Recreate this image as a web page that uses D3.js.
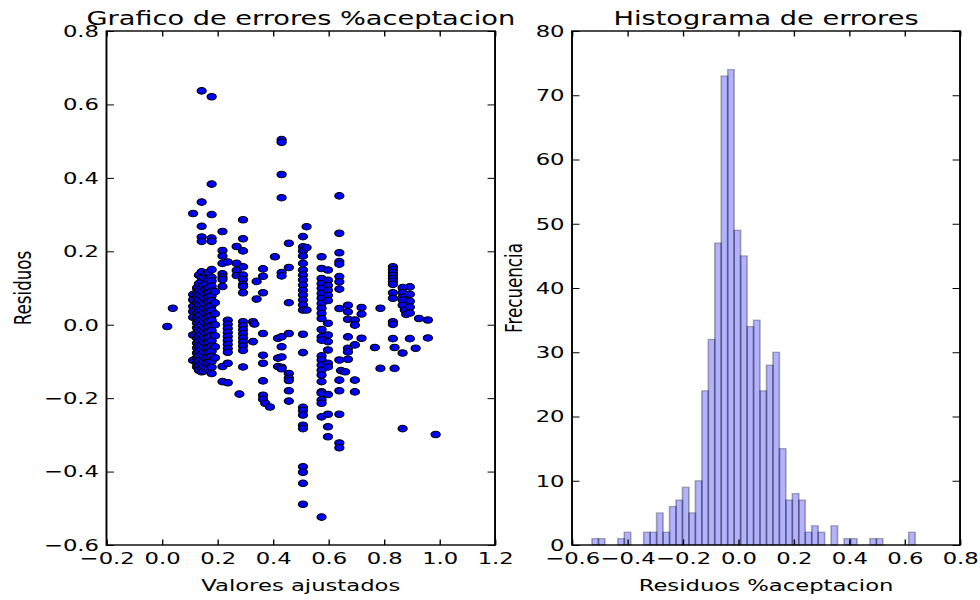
<!DOCTYPE html>
<html>
<head>
<meta charset="utf-8">
<script src="https://cdn.jsdelivr.net/npm/d3@7"></script>
<style>
  html, body { margin: 0; padding: 0; background: #fff; }
  svg { display: block; }
</style>
</head>
<body>
<div id="chart"></div>
<script>
// ---- data -------------------------------------------------------------
// Residual plot: [fitted value, residual]
const residualPoints = [
  [0.019,-0.005],[0.039,0.045],
  [0.112,0.303],[0.112,0.082],[0.112,0.068],[0.112,0.050],[0.112,0.036],[0.112,0.020],[0.112,-0.028],[0.112,-0.097],
  [0.126,0.100],[0.126,0.088],[0.126,0.074],[0.126,0.060],[0.126,0.047],[0.126,0.032],[0.126,0.018],[0.126,0.005],
  [0.126,-0.008],[0.126,-0.022],[0.126,-0.036],[0.126,-0.050],[0.126,-0.063],[0.126,-0.077],[0.126,-0.090],[0.126,-0.104],[0.126,-0.115],
  [0.133,0.135],[0.133,0.112],[0.133,0.095],[0.133,0.081],[0.133,0.067],[0.133,0.053],[0.133,0.039],[0.133,0.025],[0.133,0.011],[0.133,-0.003],
  [0.133,-0.017],[0.133,-0.031],[0.133,-0.045],[0.133,-0.058],[0.133,-0.072],[0.133,-0.086],[0.133,-0.099],[0.133,-0.112],[0.133,-0.124],
  [0.143,0.637],[0.143,0.334],[0.143,0.268],[0.143,0.239],[0.143,0.227],[0.143,0.144],[0.143,0.129],[0.143,0.119],
  [0.143,0.100],[0.143,0.090],[0.143,0.078],[0.143,0.065],[0.143,0.052],[0.143,0.040],[0.143,0.027],[0.143,0.014],[0.143,0.000],
  [0.143,-0.013],[0.143,-0.026],[0.143,-0.040],[0.143,-0.054],[0.143,-0.067],[0.143,-0.080],[0.143,-0.094],[0.143,-0.107],[0.143,-0.120],[0.143,-0.128],
  [0.150,0.128],[0.150,0.106],[0.150,0.086],[0.150,0.073],[0.150,0.059],[0.150,0.045],[0.150,0.033],[0.150,0.020],[0.150,0.007],[0.150,-0.006],
  [0.150,-0.019],[0.150,-0.033],[0.150,-0.047],[0.150,-0.061],[0.150,-0.074],[0.150,-0.087],[0.150,-0.101],[0.150,-0.113],[0.150,-0.126],
  [0.158,0.138],[0.158,0.125],[0.158,0.110],[0.158,0.096],[0.158,0.083],[0.158,0.070],[0.158,0.056],[0.158,0.043],[0.158,0.030],[0.158,0.016],
  [0.158,0.003],[0.158,-0.010],[0.158,-0.024],[0.158,-0.038],[0.158,-0.051],[0.158,-0.064],[0.158,-0.078],[0.158,-0.091],[0.158,-0.105],[0.158,-0.118],
  [0.167,0.142],[0.167,0.122],[0.167,0.101],[0.167,0.087],[0.167,0.075],[0.167,0.062],[0.167,0.048],[0.167,0.035],[0.167,0.021],[0.167,0.008],
  [0.167,-0.006],[0.167,-0.020],[0.167,-0.035],[0.167,-0.049],[0.167,-0.062],[0.167,-0.076],[0.167,-0.089],[0.167,-0.103],[0.167,-0.122],
  [0.179,0.621],[0.179,0.383],[0.179,0.300],[0.179,0.236],[0.179,0.227],[0.179,0.150],[0.179,0.129],[0.179,0.119],[0.179,0.105],[0.179,0.092],
  [0.179,0.079],[0.179,0.066],[0.179,0.052],[0.179,0.039],[0.179,0.025],[0.179,0.012],[0.179,-0.002],[0.179,-0.016],[0.179,-0.030],[0.179,-0.044],
  [0.179,-0.058],[0.179,-0.072],[0.179,-0.086],[0.179,-0.100],[0.179,-0.116],[0.179,-0.133],
  [0.191,0.090],[0.191,0.060],[0.191,0.030],[0.191,0.000],[0.191,-0.030],[0.191,-0.060],[0.191,-0.090],
  [0.218,0.254],[0.218,0.202],[0.218,0.187],[0.218,0.167],[0.218,0.139],[0.218,0.130],[0.218,0.123],[0.218,0.104],[0.218,-0.114],[0.218,-0.155],
  [0.237,0.171],[0.237,0.012],[0.237,0.001],[0.237,-0.010],[0.237,-0.021],[0.237,-0.032],[0.237,-0.043],[0.237,-0.054],[0.237,-0.065],[0.237,-0.075],[0.237,-0.105],[0.237,-0.158],
  [0.269,0.213],[0.269,0.167],[0.269,0.148],[0.269,0.134],[0.279,-0.189],
  [0.292,0.286],[0.292,0.234],[0.292,0.201],[0.292,0.158],[0.292,0.135],[0.292,0.123],[0.292,0.110],[0.292,0.104],[0.292,0.087],
  [0.292,0.008],[0.292,-0.003],[0.292,-0.014],[0.292,-0.025],[0.292,-0.036],[0.292,-0.047],[0.292,-0.058],[0.292,-0.070],[0.292,-0.115],
  [0.328,0.008],[0.333,0.002],[0.328,-0.046],[0.341,0.118],[0.341,0.070],
  [0.364,0.152],[0.364,0.132],[0.364,0.087],[0.364,-0.024],[0.364,-0.083],[0.364,-0.105],[0.364,-0.153],[0.364,-0.192],[0.364,-0.203],
  [0.372,-0.214],[0.389,-0.224],[0.407,0.185],
  [0.418,-0.037],[0.418,-0.091],[0.418,-0.114],
  [0.431,0.504],[0.431,0.497],[0.431,0.409],[0.431,0.346],[0.431,0.142],[0.431,0.133],[0.431,-0.033],[0.431,-0.060],[0.431,-0.088],[0.431,-0.116],[0.431,-0.120],
  [0.457,0.222],[0.457,0.156],[0.457,0.060],[0.457,-0.024],[0.457,-0.133],[0.457,-0.145],[0.457,-0.152],[0.457,-0.180],[0.457,-0.208],
  [0.508,0.240],[0.508,0.212],[0.508,0.201],[0.508,0.187],[0.508,0.167],[0.508,0.149],[0.508,0.135],[0.508,0.122],[0.508,0.108],
  [0.508,0.094],[0.508,0.081],[0.508,0.067],[0.508,0.054],[0.508,0.040],[0.508,-0.026],[0.508,-0.076],[0.508,-0.225],[0.508,-0.234],
  [0.508,-0.246],[0.508,-0.274],[0.508,-0.283],[0.508,-0.387],[0.508,-0.402],[0.508,-0.432],[0.508,-0.489],
  [0.521,0.267],[0.521,0.210],[0.521,0.040],
  [0.575,0.185],[0.575,0.153],[0.575,0.126],[0.575,0.112],[0.575,0.099],[0.575,0.085],[0.575,0.072],[0.575,0.058],[0.575,0.045],
  [0.575,0.031],[0.575,0.017],[0.575,-0.013],[0.575,-0.033],[0.575,-0.042],[0.575,-0.085],[0.575,-0.096],[0.575,-0.110],[0.575,-0.124],
  [0.575,-0.137],[0.575,-0.155],[0.575,-0.183],[0.575,-0.187],[0.575,-0.205],[0.575,-0.214],[0.575,-0.251],[0.575,-0.524],
  [0.598,0.149],[0.598,0.121],[0.598,0.107],[0.598,0.094],[0.598,0.080],[0.598,0.066],[0.598,0.004],[0.598,-0.028],[0.598,-0.046],
  [0.598,-0.069],[0.598,-0.105],[0.598,-0.115],[0.598,-0.190],[0.598,-0.244],[0.598,-0.278],[0.598,-0.305],
  [0.639,0.351],[0.639,0.249],[0.639,0.196],[0.639,0.172],[0.639,0.165],[0.639,0.131],[0.639,0.117],[0.639,0.097],[0.639,0.044],
  [0.639,-0.096],[0.639,-0.151],[0.639,-0.180],[0.639,-0.244],[0.639,-0.322],[0.639,-0.335],[0.645,-0.125],
  [0.670,0.053],[0.670,0.035],[0.670,0.015],[0.670,-0.033],[0.670,-0.064],[0.670,-0.074],[0.670,-0.094],[0.660,-0.128],
  [0.695,0.013],[0.695,-0.001],[0.695,-0.055],[0.695,-0.151],[0.695,-0.183],
  [0.719,0.047],[0.719,0.029],[0.719,-0.037],[0.767,-0.062],[0.787,0.045],[0.787,-0.119],
  [0.832,0.158],[0.832,0.150],[0.832,0.142],[0.832,0.134],[0.832,0.126],[0.832,0.118],[0.832,0.110],[0.832,0.087],[0.832,0.072],
  [0.832,0.008],[0.832,0.001],[0.832,-0.038],[0.838,-0.062],[0.838,-0.119],
  [0.867,0.101],[0.867,0.088],[0.867,0.075],[0.867,0.067],[0.867,0.053],[0.875,0.040],[0.880,0.028],[0.867,-0.077],[0.867,-0.283],
  [0.893,0.103],[0.893,0.083],[0.893,0.064],[0.893,0.048],[0.893,0.032],[0.893,-0.038],[0.914,-0.064],
  [0.926,0.017],[0.958,0.013],[0.958,-0.036],[0.986,-0.299]
];

// Histogram of residuals: 50 equal bins between the smallest and largest residual
const residualMin = -0.528;
const residualMax = 0.638;
const histCounts = [
  1, 1, 0, 0, 1, 2, 0, 0, 2, 2,
  5, 2, 6, 7, 9, 5, 10, 24, 32, 47,
  73, 74, 49, 45, 34, 35, 24, 28, 30, 15,
  7, 8, 7, 2, 3, 2, 0, 3, 0, 1,
  1, 0, 0, 1, 1, 0, 0, 0, 0, 2
];

const scatterXTicks = [-0.2, 0.0, 0.2, 0.4, 0.6, 0.8, 1.0, 1.2];
const scatterYTicks = [-0.6, -0.4, -0.2, 0.0, 0.2, 0.4, 0.6, 0.8];
const histXTicks = [-0.6, -0.4, -0.2, 0.0, 0.2, 0.4, 0.6, 0.8];
const histYTicks = [0, 10, 20, 30, 40, 50, 60, 70, 80];

// ---- layout -----------------------------------------------------------
// The figure is drawn in a coordinate system that is widened horizontally
// when shown, so circles become slightly wide ellipses and text is broadened.
const HSTRETCH = 1.36;
const W = 980 / HSTRETCH, H = 600;
const FONT = "DejaVu Sans, Verdana, sans-serif";
const TICK_FONT = 16.7, TITLE_FONT = 20;
const TICK_LEN = 5.5;

const plotTop = 31, plotBottom = 545;
const leftPanel = { x0: 78.3, x1: 364.0 };
const rightPanel = { x0: 420.6, x1: 705.9 };

const svg = d3.select("#chart").append("svg")
  .attr("width", 980).attr("height", 600)
  .attr("viewBox", `0 0 ${W} ${H}`)
  .attr("preserveAspectRatio", "none");

svg.append("rect").attr("width", W).attr("height", H).attr("fill", "#fff");

const fmt1 = d3.format(".1f");
const fmtInt = d3.format("d");

function drawFrame(panel, x, y, xTicks, yTicks, xFmt, yFmt) {
  const g = svg.append("g");
  const styleAxis = sel => {
    sel.attr("font-family", FONT).attr("font-size", TICK_FONT);
    sel.select(".domain").remove();
    sel.selectAll(".tick line").attr("stroke", "#000").attr("stroke-width", 1);
    sel.selectAll(".tick text").attr("fill", "#000");
  };
  g.append("g").attr("transform", `translate(0,${plotBottom})`)
    .call(d3.axisBottom(x).tickValues(xTicks).tickFormat(xFmt).tickSizeInner(-TICK_LEN).tickSizeOuter(0).tickPadding(7))
    .call(styleAxis);
  g.append("g").attr("transform", `translate(0,${plotTop})`)
    .call(d3.axisTop(x).tickValues(xTicks).tickFormat("").tickSizeInner(-TICK_LEN).tickSizeOuter(0))
    .call(styleAxis);
  g.append("g").attr("transform", `translate(${panel.x0},0)`)
    .call(d3.axisLeft(y).tickValues(yTicks).tickFormat(yFmt).tickSizeInner(-TICK_LEN).tickSizeOuter(0).tickPadding(5.5))
    .call(styleAxis);
  g.append("g").attr("transform", `translate(${panel.x1},0)`)
    .call(d3.axisRight(y).tickValues(yTicks).tickFormat("").tickSizeInner(-TICK_LEN).tickSizeOuter(0))
    .call(styleAxis);
  g.append("rect")
    .attr("x", panel.x0).attr("y", plotTop)
    .attr("width", panel.x1 - panel.x0).attr("height", plotBottom - plotTop)
    .attr("fill", "none").attr("stroke", "#000").attr("stroke-width", 1.4);
}

function addText(txt, x, y, size, rotate) {
  svg.append("text")
    .attr("transform", `translate(${x},${y})` + (rotate ? " rotate(-90)" : ""))
    .attr("text-anchor", "middle")
    .attr("font-family", FONT).attr("font-size", size)
    .attr("fill", "#000")
    .text(txt);
}

// ---- left: residuals vs fitted values --------------------------------
const xS = d3.scaleLinear().domain([-0.2, 1.2]).range([leftPanel.x0, leftPanel.x1]);
const yS = d3.scaleLinear().domain([-0.6, 0.8]).range([plotBottom, plotTop]);

svg.append("g").selectAll("circle")
  .data(residualPoints)
  .join("circle")
  .attr("cx", d => xS(d[0]))
  .attr("cy", d => yS(d[1]))
  .attr("r", 3.3)
  .attr("fill", "#0000ff")
  .attr("stroke", "#000")
  .attr("stroke-width", 1);

drawFrame(leftPanel, xS, yS, scatterXTicks, scatterYTicks, fmt1, fmt1);
addText("Grafico de errores %aceptacion", (leftPanel.x0 + leftPanel.x1) / 2, 25, TITLE_FONT);
addText("Valores ajustados", (leftPanel.x0 + leftPanel.x1) / 2, 591, TICK_FONT);
addText("Residuos", 31 / HSTRETCH, (plotTop + plotBottom) / 2, TICK_FONT, true);

// ---- right: histogram of residuals -----------------------------------
const xH = d3.scaleLinear().domain([-0.6, 0.8]).range([rightPanel.x0, rightPanel.x1]);
const yH = d3.scaleLinear().domain([0, 80]).range([plotBottom, plotTop]);
const binW = (residualMax - residualMin) / histCounts.length;
const bins = histCounts.map((c, i) => ({
  x0: residualMin + i * binW,
  x1: residualMin + (i + 1) * binW,
  count: c
})).filter(b => b.count > 0);

svg.append("g").selectAll("rect")
  .data(bins)
  .join("rect")
  .attr("x", d => xH(d.x0))
  .attr("width", d => xH(d.x1) - xH(d.x0))
  .attr("y", d => yH(d.count))
  .attr("height", d => yH(0) - yH(d.count))
  .attr("fill", "#0000ff").attr("fill-opacity", 0.3)
  .attr("stroke", "#000").attr("stroke-opacity", 0.3).attr("stroke-width", 1.2);

drawFrame(rightPanel, xH, yH, histXTicks, histYTicks, fmt1, fmtInt);
addText("Histograma de errores", (rightPanel.x0 + rightPanel.x1) / 2, 25, TITLE_FONT);
addText("Residuos %aceptacion", (rightPanel.x0 + rightPanel.x1) / 2, 591, TICK_FONT);
addText("Frecuencia", 522.5 / HSTRETCH, (plotTop + plotBottom) / 2, TICK_FONT, true);
</script>
</body>
</html>
